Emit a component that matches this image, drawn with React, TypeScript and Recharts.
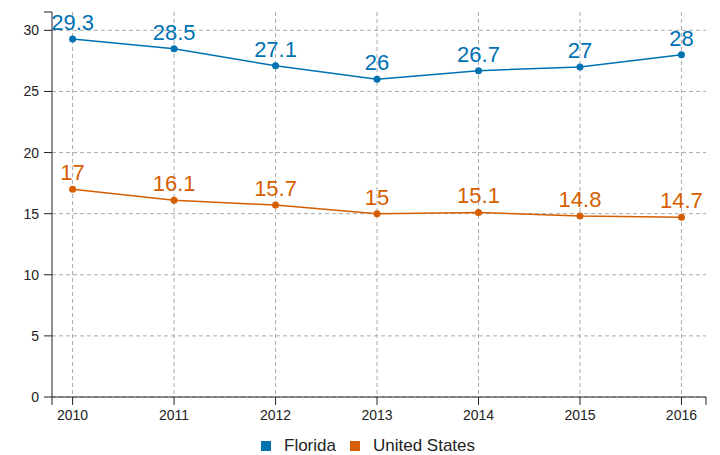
import { LineChart, Line, XAxis, YAxis, CartesianGrid, LabelList } from 'recharts'

const YEARS = [2010, 2011, 2012, 2013, 2014, 2015, 2016]
const FLORIDA = [29.3, 28.5, 27.1, 26, 26.7, 27, 28]
const UNITED_STATES = [17, 16.1, 15.7, 15, 15.1, 14.8, 14.7]
const Y_TICKS = [0, 5, 10, 15, 20, 25, 30]

const X_MIN = 2009.797
const X_MAX = 2016.242
const Y_MAX = 31.5

const BLUE = '#0072b2'
const ORANGE = '#d55e00'
const FONT = '"Liberation Sans", Arial, sans-serif'
const AXIS = '#222'

const data = YEARS.map((year, i) => ({
  year,
  florida: FLORIDA[i],
  us: UNITED_STATES[i],
}))

const SERIES = [
  { key: 'florida', name: 'Florida', color: BLUE },
  { key: 'us', name: 'United States', color: ORANGE },
]

function Legend() {
  return (
    <div
      style={{
        position: 'absolute', top: 436, left: 261, display: 'flex',
        alignItems: 'center', fontFamily: FONT, fontSize: 17, color: '#222',
      }}
    >
      {SERIES.map((s) => (
        <div key={s.key} style={{ display: 'flex', alignItems: 'center', marginRight: 14 }}>
          <span style={{ width: 10, height: 10, background: s.color, marginRight: 13 }} />
          <span>{s.name}</span>
        </div>
      ))}
    </div>
  )
}

export default function App() {
  return (
    <div style={{ position: 'absolute', top: 0, left: 0, width: 720, height: 455, background: '#fff' }}>
      <LineChart
        width={720}
        height={455}
        data={data}
        margin={{ top: 12, right: 14, left: 0, bottom: 28 }}
        style={{ fontFamily: FONT }}
      >
        <CartesianGrid
          stroke="#aaa"
          strokeDasharray="4 3"
          horizontalValues={Y_TICKS}
          verticalValues={YEARS}
        />
        <XAxis
          dataKey="year"
          type="number"
          domain={[X_MIN, X_MAX]}
          ticks={[X_MIN, ...YEARS, X_MAX]}
          tickFormatter={(v: number) => (Number.isInteger(v) ? String(v) : '')}
          interval={0}
          height={30}
          tickSize={8}
          tickMargin={5}
          stroke={AXIS}
          tick={{ fill: AXIS, fontSize: 14 }}
        />
        <YAxis
          type="number"
          domain={[0, Y_MAX]}
          ticks={[...Y_TICKS, Y_MAX]}
          tickFormatter={(v: number) => (Y_TICKS.includes(v) ? String(v) : '')}
          interval={0}
          width={52}
          tickSize={8}
          tickMargin={5}
          stroke={AXIS}
          tick={{ fill: AXIS, fontSize: 14 }}
        />
        {SERIES.map((s) => (
          <Line
            key={s.key}
            dataKey={s.key}
            name={s.name}
            stroke={s.color}
            strokeWidth={1.5}
            dot={{ r: 3.5, fill: s.color, stroke: s.color, strokeWidth: 0 }}
            isAnimationActive={false}
          >
            <LabelList dataKey={s.key} position="top" offset={9} fill={s.color} fontSize={22} />
          </Line>
        ))}
      </LineChart>
      <Legend />
    </div>
  )
}
